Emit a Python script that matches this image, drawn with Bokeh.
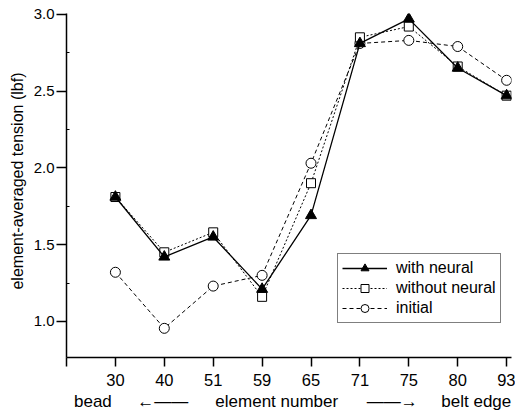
from bokeh.plotting import figure
from bokeh.models import (Range1d, FixedTicker, PrintfTickFormatter, Legend, LegendItem,
                          LinearAxis)
from bokeh.embed import file_html
from bokeh.resources import INLINE

elements = ["30", "40", "51", "59", "65", "71", "75", "80", "93"]
with_neural = [1.81, 1.42, 1.55, 1.21, 1.69, 2.81, 2.97, 2.65, 2.47]
without_neural = [1.81, 1.45, 1.58, 1.16, 1.90, 2.85, 2.92, 2.66, 2.47]
initial = [1.32, 0.955, 1.23, 1.30, 2.03, 2.81, 2.83, 2.79, 2.57]
y_ticks = [1.0, 1.5, 2.0, 2.5, 3.0]
y_minor = [1.25, 1.75, 2.25, 2.75]
bottom_texts = ["bead", "\u2190\u2014\u2014", "element number", "\u2014\u2014\u2192", "belt edge"]
bottom_pos = [0.54, 1.97, 4.30, 6.66, 8.38]

FONT = "Liberation Sans"
xs = list(range(1, len(elements) + 1))

p = figure(width=515, height=415, output_backend="svg", toolbar_location=None,
           x_range=Range1d(0, 9.1), y_range=Range1d(0.765, 3.005),
           min_border_left=66, min_border_right=4, min_border_top=13, min_border_bottom=58)
p.outline_line_color = None
p.xgrid.visible = False
p.ygrid.visible = False
p.background_fill_color = "white"
p.border_fill_color = "white"

# x axis
xa = p.xaxis[0]
xa.ticker = FixedTicker(ticks=[0] + xs, minor_ticks=[])
overrides = {i: lab for i, lab in zip(xs, elements)}
overrides[0] = ""
xa.major_label_overrides = overrides
xa.major_tick_in = 0
xa.major_tick_out = 9
xa.minor_tick_in = 0
xa.minor_tick_out = 0
xa.major_label_standoff = 7
xa.major_label_text_font = FONT
xa.major_label_text_font_size = "16.5px"
xa.major_label_text_color = "black"
xa.axis_line_color = "black"
xa.axis_line_width = 1.5
xa.major_tick_line_width = 1.5

# bottom descriptive row as a second, line-less axis
xb = LinearAxis(ticker=FixedTicker(ticks=bottom_pos, minor_ticks=[]),
                major_label_overrides={v: t for v, t in zip(bottom_pos, bottom_texts)})
xb.axis_line_color = None
xb.major_tick_line_color = None
xb.minor_tick_line_color = None
xb.major_tick_in = 0
xb.major_tick_out = 0
xb.major_label_standoff = 3
xb.major_label_text_font = FONT
xb.major_label_text_font_size = "17px"
xb.major_label_text_color = "black"
p.add_layout(xb, "below")

# y axis
ya = p.yaxis[0]
ya.ticker = FixedTicker(ticks=y_ticks, minor_ticks=y_minor)
ya.formatter = PrintfTickFormatter(format="%.1f")
ya.major_tick_in = 0
ya.major_tick_out = 10
ya.minor_tick_in = 3
ya.minor_tick_out = 0
ya.major_label_standoff = 2
ya.major_label_text_font = FONT
ya.major_label_text_font_size = "15px"
ya.major_label_text_color = "black"
ya.axis_label = "\u00a0" * 2 + "element-averaged tension (lbf)"
ya.axis_label_text_font = FONT
ya.axis_label_text_font_size = "16px"
ya.axis_label_text_font_style = "normal"
ya.axis_label_text_color = "black"
ya.axis_label_standoff = 5
ya.axis_line_color = "black"
ya.axis_line_width = 1.5
ya.major_tick_line_width = 1.5

# series
l3 = p.line(xs, initial, line_color="black", line_width=1, line_dash="4 3")
s3 = p.scatter(xs, initial, marker="circle", size=10, fill_color="white", line_color="black", line_width=1)
l2 = p.line(xs, without_neural, line_color="black", line_width=1, line_dash="2 2")
s2 = p.scatter(xs, without_neural, marker="square", size=9, fill_color="white", line_color="black", line_width=1)
l1 = p.line(xs, with_neural, line_color="black", line_width=1.3)
s1 = p.scatter(xs, with_neural, marker="triangle", size=11, fill_color="black", line_color="black")

legend = Legend(items=[
    LegendItem(label="with neural", renderers=[l1, s1]),
    LegendItem(label="without neural", renderers=[l2, s2]),
    LegendItem(label="initial", renderers=[l3, s3]),
], location=(271, 34))
legend.border_line_color = "black"
legend.border_line_width = 1
legend.background_fill_alpha = 1
legend.label_text_font = FONT
legend.label_text_font_size = "16px"
legend.label_text_color = "black"
legend.glyph_width = 45
legend.glyph_height = 20
legend.label_height = 20
legend.label_standoff = 9
legend.spacing = 0
legend.padding = 4
legend.margin = 0
p.add_layout(legend, "center")

open("out.html", "w").write(file_html(p, INLINE))
